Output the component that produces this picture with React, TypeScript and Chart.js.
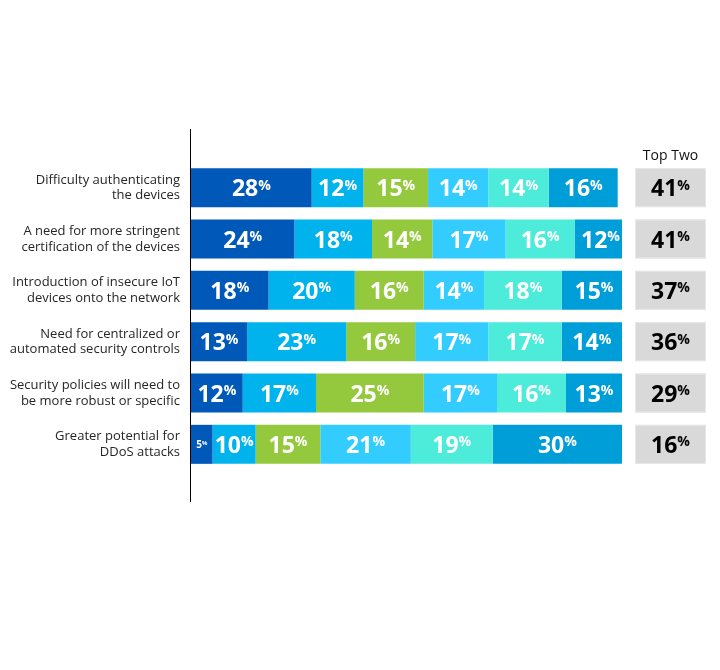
import React, { useRef, useEffect } from 'react';
import { Chart, registerables } from 'chart.js';

Chart.register(...registerables);

// Categorías (etiquetas de varias líneas)
const categories = [
  ['Difficulty authenticating', 'the devices'],
  ['A need for more stringent', 'certification of the devices'],
  ['Introduction of insecure IoT', 'devices onto the network'],
  ['Need for centralized or', 'automated security controls'],
  ['Security policies will need to', 'be more robust or specific'],
  ['Greater potential for', 'DDoS attacks'],
];

// Valores por rango (1 a 6)
const rank1 = [28, 24, 18, 13, 12, 5];
const rank2 = [12, 18, 20, 23, 17, 10];
const rank3 = [15, 14, 16, 16, 25, 15];
const rank4 = [14, 17, 14, 17, 17, 21];
const rank5 = [14, 16, 18, 17, 16, 19];
const rank6 = [16, 12, 15, 14, 13, 30];

const topTwo = [41, 41, 37, 36, 29, 16];
const topTwoTitle = 'Top Two';

const colors = ['#0058B8', '#00B3EC', '#94C83D', '#33CCFF', '#4DEBDA', '#009ED8'];

const FONT = '"Open Sans", "Noto Sans", sans-serif';

// Dibuja "NN%" con el símbolo % pequeño arriba
function drawPct(ctx: CanvasRenderingContext2D, value: number, cx: number, cy: number, big: number, color: string) {
  const small = Math.round(big * 0.6);
  ctx.save();
  ctx.fillStyle = color;
  ctx.textBaseline = 'alphabetic';
  ctx.textAlign = 'left';
  ctx.font = `bold ${big}px ${FONT}`;
  const numText = String(value);
  const wNum = ctx.measureText(numText).width;
  ctx.font = `bold ${small}px ${FONT}`;
  const wPct = ctx.measureText('%').width;
  const total = wNum + wPct;
  const x0 = cx - total / 2;
  const baseline = cy + big * 0.37;
  ctx.font = `bold ${big}px ${FONT}`;
  ctx.fillText(numText, x0, baseline);
  ctx.font = `bold ${small}px ${FONT}`;
  ctx.fillText('%', x0 + wNum, baseline - big * 0.714 + small * 0.714);
  ctx.restore();
}

const segmentLabels = {
  id: 'segmentLabels',
  afterDatasetsDraw(chart: any) {
    const ctx = chart.ctx;
    chart.data.datasets.forEach((ds: any, di: number) => {
      const meta = chart.getDatasetMeta(di);
      meta.data.forEach((bar: any, i: number) => {
        const v = ds.data[i];
        const w = Math.abs(bar.x - bar.base);
        const cx = (bar.x + bar.base) / 2;
        const size = w < 30 ? 10 : 23;
        drawPct(ctx, v, cx, bar.y, size, '#ffffff');
      });
    });
  },
};

const sideColumn = {
  id: 'sideColumn',
  afterDraw(chart: any) {
    const ctx = chart.ctx;
    const area = chart.chartArea;
    const meta = chart.getDatasetMeta(0);
    const left = area.right + 13;
    const width = 71;

    // Línea vertical del eje
    ctx.save();
    ctx.strokeStyle = '#000000';
    ctx.lineWidth = 1;
    ctx.beginPath();
    ctx.moveTo(area.left - 0.5, area.top - 33);
    ctx.lineTo(area.left - 0.5, area.bottom + 32);
    ctx.stroke();

    // Título de la columna
    ctx.fillStyle = '#111111';
    ctx.font = `14px ${FONT}`;
    ctx.textAlign = 'center';
    ctx.textBaseline = 'alphabetic';
    ctx.fillText(topTwoTitle, left + width / 2, area.top - 2);

    meta.data.forEach((bar: any, i: number) => {
      const h = bar.height;
      const top = bar.y - h / 2;
      ctx.fillStyle = '#D9D9D9';
      ctx.fillRect(left, top, width, h);
      ctx.strokeStyle = '#E8E8E8';
      ctx.strokeRect(left + 0.5, top + 0.5, width - 1, h - 1);
      drawPct(ctx, topTwo[i], left + width / 2, bar.y, 23, '#000000');
    });
    ctx.restore();
  },
};

const TopConcernsChart: React.FC = () => {
  const chartRef = useRef<HTMLCanvasElement>(null);
  const chartInstanceRef = useRef<Chart | null>(null);

  useEffect(() => {
    if (!chartRef.current) return;
    const ctx = chartRef.current.getContext('2d');
    if (!ctx) return;
    if (chartInstanceRef.current) chartInstanceRef.current.destroy();

    const series = [rank1, rank2, rank3, rank4, rank5, rank6];

    chartInstanceRef.current = new Chart(ctx, {
      type: 'bar',
      data: {
        labels: categories,
        datasets: series.map((s, k) => ({
          label: `Rank ${k + 1}`,
          data: s,
          backgroundColor: colors[k],
          borderWidth: 0,
          barPercentage: 0.76,
          categoryPercentage: 1,
        })),
      },
      options: {
        indexAxis: 'y',
        responsive: false,
        animation: false,
        layout: { padding: { top: 162, bottom: 200, right: 98, left: 0 } },
        scales: {
          x: { stacked: true, min: 0, max: 100, display: false },
          y: {
            stacked: true,
            grid: { display: false, drawTicks: false },
            border: { display: false },
            ticks: {
              color: '#262626',
              padding: 11,
              font: { family: FONT, size: 13 },
            },
            afterFit: (scale: any) => {
              scale.width = 191;
            },
          },
        },
        plugins: {
          legend: { display: false },
          tooltip: { enabled: false },
        },
      },
      plugins: [segmentLabels, sideColumn],
    });

    return () => {
      if (chartInstanceRef.current) {
        chartInstanceRef.current.destroy();
        chartInstanceRef.current = null;
      }
    };
  }, []);

  return (
    <div style={{ position: 'absolute', left: 0, top: 0, width: 720, height: 670, background: '#ffffff' }}>
      <canvas ref={chartRef} width={720} height={670}></canvas>
    </div>
  );
};

export default function App() {
  return <TopConcernsChart />;
}
